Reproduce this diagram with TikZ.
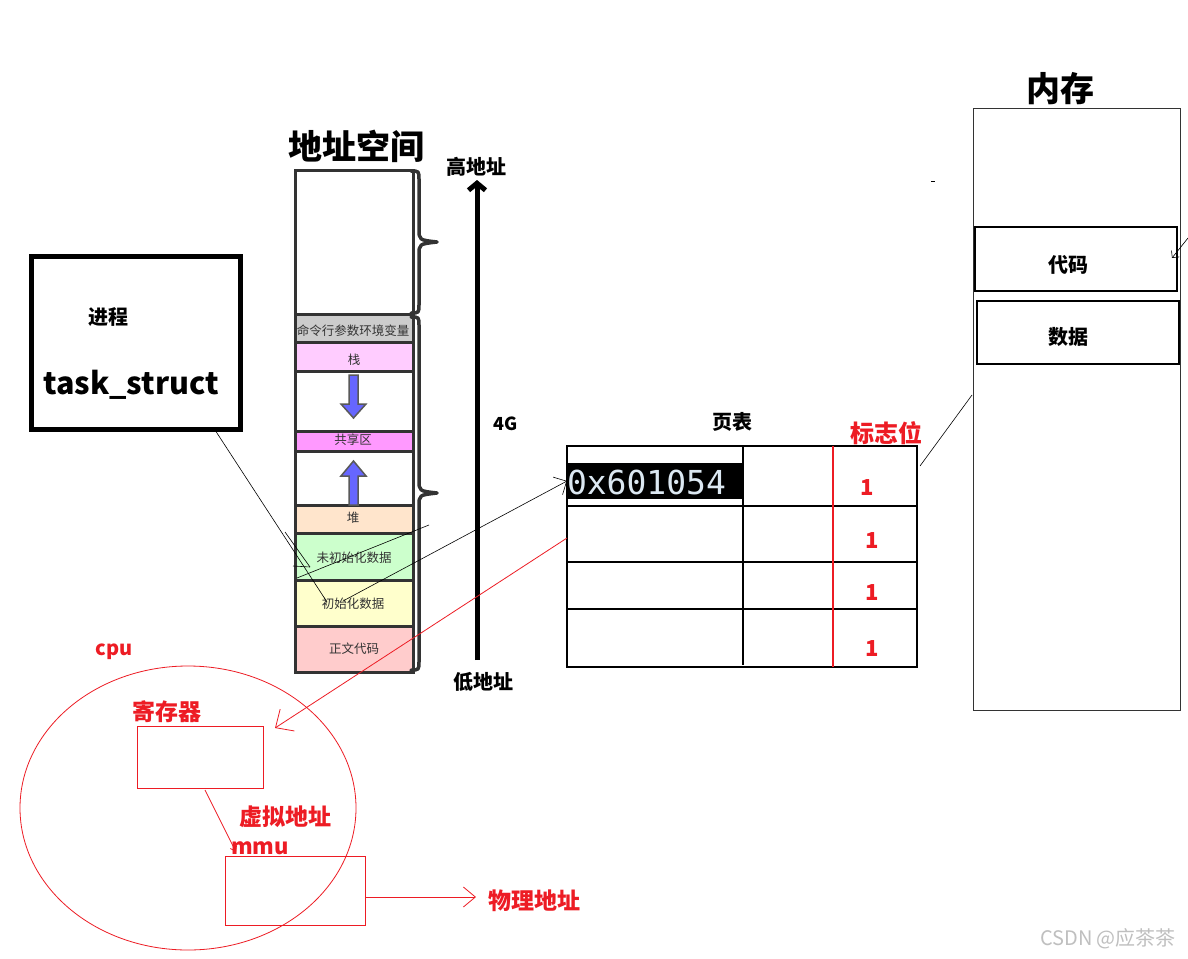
\documentclass[tikz,border=0pt]{standalone}
\usepackage{fontspec}
\newfontfamily\cjk{Noto Sans CJK SC}
\newfontfamily\monof{DejaVu Sans Mono}
\usetikzlibrary{arrows.meta,shapes.geometric}
\definecolor{pred}{HTML}{ED1C24}
\definecolor{segline}{HTML}{333333}
\definecolor{cmdgray}{HTML}{CCCCCC}
\definecolor{stackpink}{HTML}{FFCCFF}
\definecolor{sharepink}{HTML}{FF99FF}
\definecolor{heaporange}{HTML}{FFE5CC}
\definecolor{bssgreen}{HTML}{CCFFCC}
\definecolor{datayellow}{HTML}{FFFFCC}
\definecolor{textred}{HTML}{FFCCCC}
\definecolor{fatblue}{HTML}{6666FF}
\definecolor{addrtext}{HTML}{DCE8F2}
\newcommand\myfs[1]{\fontsize{#1}{#1}\selectfont}
\begin{document}
\begin{tikzpicture}[x=1pt,y=-1pt,
  every node/.style={inner sep=0pt,outer sep=0pt},
  lbl/.style={font=\cjk\bfseries\myfs{#1}},
  redlbl/.style={font=\cjk\bfseries\myfs{#1},text=pred},
  seg/.style={draw=segline,line width=3pt,minimum width=118pt},
  seglbl/.style={font=\cjk\myfs{12.5},text=segline},
  brc/.style={draw=segline,line width=3.5pt,line join=round,line cap=round},
  fat/.style={draw=gray!70!black,line width=1.5pt,fill=fatblue,line join=miter},
  thin/.style={draw=black,line width=0.6pt},
  redthin/.style={draw=pred,line width=0.8pt},
  tbl/.style={draw=black,line width=1.2pt},
  barb/.style={-{Straight Barb[length=#1]}},
]
\useasboundingbox (0,0) rectangle (1188,958);
\fill[white] (0,0) rectangle (1188,958);

% ---------- address space ----------
\node[lbl=34] (astitle) at (356,146) {地址空间};
\node[seg,minimum height=144pt,fill=white] (top) at (354,242) {};
\node[seg,minimum height=28pt,fill=cmdgray] (cmd) at (354,328) {};
\node[seg,minimum height=29pt,fill=stackpink] (stack) at (354,356.5) {};
\node[seg,minimum height=60pt,fill=white] (gap1) at (354,401) {};
\node[seg,minimum height=20pt,fill=sharepink] (share) at (354,441) {};
\node[seg,minimum height=54pt,fill=white] (gap2) at (354,478) {};
\node[seg,minimum height=28pt,fill=heaporange] (heap) at (354,519) {};
\node[seg,minimum height=47pt,fill=bssgreen] (bss) at (354,556.5) {};
\node[seg,minimum height=46pt,fill=datayellow] (data) at (354,603) {};
\node[seg,minimum height=46pt,fill=textred] (text) at (354,649) {};
\node[seglbl] (cmdl) at (353,331) {命令行参数环境变量};
\node[seglbl] (stackl) at (354,360) {栈};
\node[seglbl] (sharel) at (353,440) {共享区};
\node[seglbl] (heapl) at (353,518) {堆};
\node[seglbl] (bssl) at (354,558) {未初始化数据};
\node[seglbl] (datal) at (353,604) {初始化数据};
\node[seglbl] (textl) at (354,649) {正文代码};

% fat arrows
\draw[fat] (349,375) -- (358,375) -- (358,404) -- (366,404) -- (353.5,418) -- (341,404) -- (349,404) -- cycle;
\draw[fat] (353.5,461) -- (366,476) -- (358,476) -- (358,505) -- (349,505) -- (349,476) -- (341,476) -- cycle;

% braces
\draw[brc] (411,171) .. controls (419,171) .. (419,180) -- (419,229)
  .. controls (419,240) .. (437,242) .. controls (419,244) .. (419,255)
  -- (419,304) .. controls (419,313) .. (411,313);
\draw[brc] (411,317) .. controls (419,317) .. (419,326) -- (419,480)
  .. controls (419,491) .. (437,493) .. controls (419,495) .. (419,506)
  -- (419,661) .. controls (419,670) .. (411,670);

% 4G axis
\node[lbl=20] (hi) at (476,167) {高地址};
\node[lbl=20] (lo) at (483,682) {低地址};
\node[lbl=18] (fourg) at (506,424) {4G};
\coordinate (axbot) at (477,660);
\coordinate (axtop) at (477,180);
\draw[line width=5pt,-{Straight Barb[length=7pt,width=17pt]}] (axbot) -- (axtop);

% ---------- process ----------
\node[draw=black,line width=5pt,minimum width=209pt,minimum height=173pt] (proc) at (135.5,342.5) {};
\node[lbl=20] (proclbl) at (108,317) {进程};
\node[lbl=30.5] (task) at (131,385) {task\_struct};

\coordinate (p1) at (215,430);
\coordinate (p2) at (327,602);
\coordinate (p3) at (285,532);
\coordinate (p4) at (310,567);
\coordinate (p5) at (293,566);
\coordinate (p6) at (297,578);
\coordinate (p7) at (429,525);
\coordinate (p8) at (343,601);
\draw[thin] (p1) -- (p2);
\draw[thin] (p3) -- (p4);
\draw[thin] (p5) -- (p4);
\draw[thin] (p6) -- (p7);

% ---------- page table ----------
\node[lbl=20] (pttitle) at (732,422) {页表};
\node[redlbl=24] (flag) at (886,433) {标志位};
\node[tbl,minimum width=350pt,minimum height=221pt] (pt) at (742,556.5) {};
\draw[tbl] (567,506) -- (917,506);
\draw[tbl] (567,562) -- (917,562);
\draw[tbl] (567,609) -- (917,609);
\draw[tbl] (743,446) -- (743,665);
\draw[draw=pred,line width=1.2pt] (833,446) -- (833,667);
\node[fill=black,minimum width=176pt,minimum height=36pt] (addr) at (655,481) {};
\node[anchor=west,font=\monof\myfs{33},text=addrtext] (addrtxt) at (567,482) {0x601054};
\node[redlbl=22] (f1) at (867,488) {1};
\node[redlbl=22] (f2) at (872,541) {1};
\node[redlbl=22] (f3) at (872,593) {1};
\node[redlbl=22] (f4) at (872,649) {1};
\draw[thin,barb=10pt] (p8) -- (addr.west);

% ---------- memory ----------
\node[lbl=34] (memtitle) at (1060,89) {内存};
\node[draw=black!80,line width=1pt,minimum width=207pt,minimum height=602pt] (mem) at (1076.5,409) {};
\node[draw=black,line width=1.2pt,minimum width=202pt,minimum height=64pt] (code) at (1076,259) {};
\node[draw=black,line width=1.2pt,minimum width=202pt,minimum height=63pt] (mdata) at (1078,332.5) {};
\node[lbl=20] (codel) at (1068,265) {代码};
\node[lbl=20] (mdatal) at (1068,337) {数据};
\coordinate (q1) at (920,466);
\coordinate (q2) at (972,395);
\draw[thin] (q1) -- (q2);
\coordinate (q3) at (1188,238);
\coordinate (q4) at (1172,258);
\draw[thin,barb=5pt] (q3) -- (q4);
\coordinate (q5) at (931,181);
\coordinate (q6) at (935,181);
\draw[thin] (q5) -- (q6);

% ---------- cpu ----------
\node[redlbl=20] (cpulbl) at (114,652) {cpu};
\node[draw=pred,line width=0.8pt,ellipse,minimum width=336pt,minimum height=284pt] (cpu) at (188,808) {};
\node[redlbl=23] (reglbl) at (167,712) {寄存器};
\node[draw=pred,line width=0.8pt,minimum width=126pt,minimum height=62pt] (reg) at (200,757) {};
\node[redlbl=23] (vaddr) at (285,817) {虚拟地址};
\node[redlbl=22] (mmulbl) at (260,848) {mmu};
\node[draw=pred,line width=0.8pt,minimum width=140pt,minimum height=69pt] (mmu) at (295,890.5) {};
\node[redlbl=23] (paddr) at (534,901) {物理地址};

\coordinate (r1) at (567,538);
\coordinate (r2) at (275,728);
\draw[redthin,-{Straight Barb[length=14pt,width=26pt]}] (r1) -- (r2);
\coordinate (r3) at (205,790);
\coordinate (r4) at (236,852);
\draw[redthin,-{Straight Barb[length=5pt,width=7pt]}] (r3) -- (r4);
\coordinate (m1) at (365,897);
\coordinate (m2) at (476,897);
\draw[redthin,-{Straight Barb[length=12pt,width=20pt]}] (m1) -- (m2);

% watermark
\node[font=\cjk\myfs{20},text=black!25] (wm) at (1108,939) {CSDN @应茶茶};
\end{tikzpicture}
\end{document}
